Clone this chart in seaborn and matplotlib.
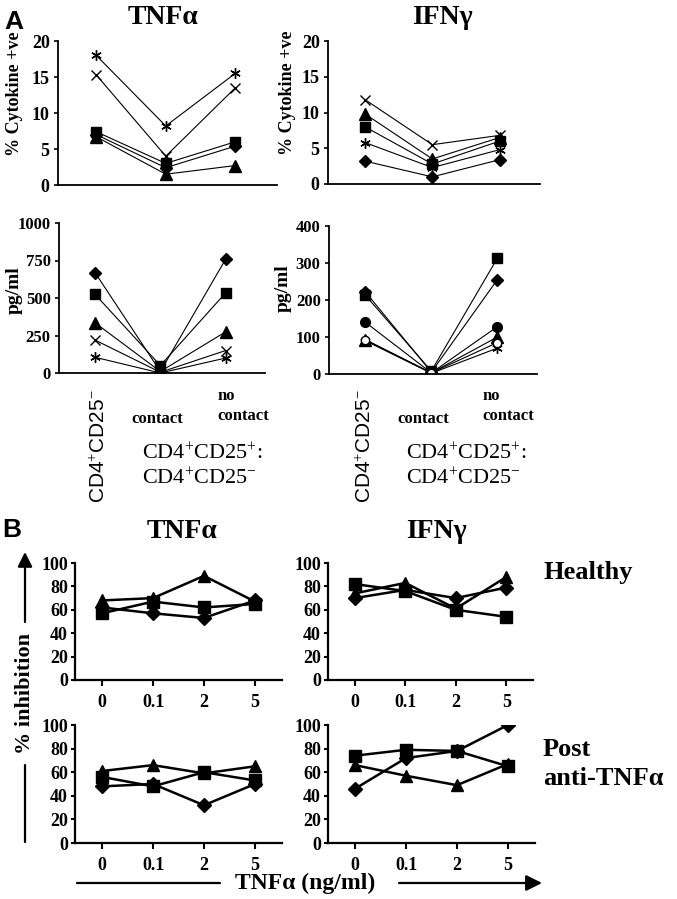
import numpy as np
import pandas as pd
import matplotlib
matplotlib.use("Agg")
import matplotlib.pyplot as plt
import seaborn as sns

# ---------------- data ----------------
a_categories = ["CD4+CD25-", "contact", "no contact"]

tnf_pct_star = [18.0, 8.2, 15.5]
tnf_pct_cross = [15.3, 4.0, 13.5]
tnf_pct_square = [7.4, 3.0, 6.0]
tnf_pct_diamond = [7.0, 2.4, 5.4]
tnf_pct_triangle = [6.7, 1.5, 2.7]

ifn_pct_cross = [11.8, 5.5, 6.8]
ifn_pct_triangle = [9.8, 3.5, 6.5]
ifn_pct_square = [8.0, 2.8, 6.0]
ifn_pct_star = [5.8, 2.3, 4.8]
ifn_pct_diamond = [3.2, 1.0, 3.4]

tnf_pg_diamond = [670, 10, 760]
tnf_pg_square = [525, 50, 535]
tnf_pg_triangle = [335, 10, 275]
tnf_pg_cross = [220, 5, 150]
tnf_pg_star = [105, 0, 100]

ifn_pg_diamond = [222, 5, 255]
ifn_pg_square = [213, 8, 313]
ifn_pg_circle = [140, 3, 128]
ifn_pg_triangle = [93, 3, 100]
ifn_pg_star = [90, 2, 70]
ifn_pg_open = [92, 3, 85]

b_doses = ["0", "0.1", "2", "5"]

tnf_healthy_triangle = [68, 70, 89, 67]
tnf_healthy_square = [57, 67, 62, 65]
tnf_healthy_diamond = [62, 57, 53, 68]

ifn_healthy_square = [82, 76, 60, 54]
ifn_healthy_triangle = [74, 83, 61, 88]
ifn_healthy_diamond = [70, 77, 70, 79]

tnf_post_triangle = [61, 66, 59, 65]
tnf_post_square = [56, 48, 60, 53]
tnf_post_diamond = [48, 50, 32, 50]

ifn_post_diamond = [46, 72, 78, 100]
ifn_post_square = [74, 79, 78, 65]
ifn_post_triangle = [66, 57, 49, 67]

# ---------------- style ----------------
sns.set_theme(style="ticks")
plt.rcParams['font.family'] = ['Liberation Serif', 'DejaVu Serif']
plt.rcParams['mathtext.fontset'] = 'custom'
plt.rcParams['mathtext.rm'] = 'Liberation Serif'
plt.rcParams['mathtext.it'] = 'Liberation Serif:italic'
plt.rcParams['mathtext.bf'] = 'Liberation Serif:bold'

W, H = 677, 899
fig = plt.figure(figsize=(W / 100, H / 100), dpi=100)
fig.patch.set_facecolor('white')


def add_ax(l, t, r, b):
    return fig.add_axes([l / W, 1 - b / H, (r - l) / W, (b - t) / H])


MK = {
    'diamond': ('D', 6.0, 'black'),
    'square': ('s', 7.0, 'black'),
    'triangle': ('^', 8.0, 'black'),
    'cross': ('x', 7.0, 'black'),
    'star': ((6, 2, 0), 7.5, 'black'),
    'circle': ('o', 7.0, 'black'),
    'open': ('o', 6.0, 'white'),
}


def draw(ax, cats, series, lw, scale, mew):
    for name, vals in series:
        m, ms, fc = MK[name]
        df = pd.DataFrame({'x': cats, 'y': vals})
        sns.lineplot(data=df, x='x', y='y', ax=ax, color='black', lw=lw,
                     marker=m, markersize=ms * scale, markerfacecolor=fc,
                     markeredgecolor='black', markeredgewidth=mew, sort=False)
    ax.set_xlabel('')
    ax.set_ylabel('')
    for s in ['top', 'right']:
        ax.spines[s].set_visible(False)


def style_a(ax, ymax, yticks, spine_lw=1.3, fs=13):
    ax.set_ylim(0, ymax)
    ax.set_xlim(-0.55, 2.6)
    ax.set_yticks(yticks)
    ax.tick_params(axis='x', bottom=False, labelbottom=False)
    ax.tick_params(axis='y', direction='out', length=3, width=1.2, pad=3,
                   labelsize=fs, colors='black')
    for s in ['left', 'bottom']:
        ax.spines[s].set_color('black')
        ax.spines[s].set_linewidth(spine_lw)
    for lbl in ax.get_yticklabels():
        lbl.set_fontweight('bold')


def style_b(ax):
    ax.set_ylim(0, 100)
    ax.set_xlim(-0.53, 3.53)
    ax.set_yticks([0, 20, 40, 60, 80, 100])
    ax.tick_params(axis='x', direction='out', length=4, width=1.5, pad=6,
                   labelsize=13, colors='black')
    ax.tick_params(axis='y', direction='out', length=3, width=1.5, pad=2,
                   labelsize=13, colors='black')
    for s in ['left', 'bottom']:
        ax.spines[s].set_color('black')
        ax.spines[s].set_linewidth(1.6)
    for lbl in ax.get_yticklabels() + ax.get_xticklabels():
        lbl.set_fontweight('bold')


# ---- Panel A ----
ax1 = add_ax(58, 41, 277, 185)
draw(ax1, a_categories, [('star', tnf_pct_star), ('cross', tnf_pct_cross),
                         ('square', tnf_pct_square), ('diamond', tnf_pct_diamond),
                         ('triangle', tnf_pct_triangle)], 0.8, 1.0, 1.0)
style_a(ax1, 20, [0, 5, 10, 15, 20])

ax2 = add_ax(328, 41, 540, 184)
draw(ax2, a_categories, [('cross', ifn_pct_cross), ('triangle', ifn_pct_triangle),
                         ('square', ifn_pct_square), ('star', ifn_pct_star),
                         ('diamond', ifn_pct_diamond)], 0.8, 1.0, 1.0)
style_a(ax2, 20, [0, 5, 10, 15, 20])

ax3 = add_ax(59, 223, 265, 373)
draw(ax3, a_categories, [('diamond', tnf_pg_diamond), ('square', tnf_pg_square),
                         ('triangle', tnf_pg_triangle), ('cross', tnf_pg_cross),
                         ('star', tnf_pg_star)], 0.8, 1.0, 1.0)
style_a(ax3, 1000, [0, 250, 500, 750, 1000], fs=12)

ax4 = add_ax(329, 226, 537, 374)
draw(ax4, a_categories, [('diamond', ifn_pg_diamond), ('square', ifn_pg_square),
                         ('circle', ifn_pg_circle), ('triangle', ifn_pg_triangle),
                         ('star', ifn_pg_star), ('open', ifn_pg_open)], 0.8, 1.0, 1.0)
style_a(ax4, 400, [0, 100, 200, 300, 400], fs=12)

# ---- Panel B ----
ax5 = add_ax(75, 563, 282, 680)
draw(ax5, b_doses, [('triangle', tnf_healthy_triangle), ('square', tnf_healthy_square),
                    ('diamond', tnf_healthy_diamond)], 1.8, 1.15, 1.0)
style_b(ax5)

ax6 = add_ax(328, 563, 533, 680)
draw(ax6, b_doses, [('square', ifn_healthy_square), ('triangle', ifn_healthy_triangle),
                    ('diamond', ifn_healthy_diamond)], 1.8, 1.15, 1.0)
style_b(ax6)

ax7 = add_ax(75, 725, 282, 843)
draw(ax7, b_doses, [('triangle', tnf_post_triangle), ('square', tnf_post_square),
                    ('diamond', tnf_post_diamond)], 1.8, 1.15, 1.0)
style_b(ax7)

ax8 = add_ax(328, 725, 535, 843)
draw(ax8, b_doses, [('diamond', ifn_post_diamond), ('square', ifn_post_square),
                    ('triangle', ifn_post_triangle)], 1.8, 1.15, 1.0)
style_b(ax8)

# ---- overlay for texts and arrows (pixel coordinates) ----
ov = fig.add_axes([0, 0, 1, 1], zorder=10)
ov.set_xlim(0, W)
ov.set_ylim(H, 0)
ov.axis('off')
ov.patch.set_alpha(0)

sans = ['Liberation Sans', 'DejaVu Sans']
bold_kw = dict(fontweight='bold', color='black', ha='center', va='center')

ov.text(14, 22, 'A', fontsize=19, family=sans, **bold_kw)
ov.text(12, 530, 'B', fontsize=19, family=sans, **bold_kw)

ov.text(163, 17, 'TNFα', fontsize=20, **bold_kw)
ov.text(442, 17, 'IFNγ', fontsize=20, **bold_kw)
ov.text(182, 531, 'TNFα', fontsize=20, **bold_kw)
ov.text(436, 531, 'IFNγ', fontsize=20, **bold_kw)

ov.text(15, 94, '% Cytokine +ve', fontsize=13, rotation=90, **bold_kw)
ov.text(287, 93, '% Cytokine +ve', fontsize=13, rotation=90, **bold_kw)
ov.text(14, 290, 'pg/ml', fontsize=14, rotation=90, **bold_kw)
ov.text(283, 288, 'pg/ml', fontsize=14, rotation=90, **bold_kw)

# category labels of panel A
for x_rot, x_con, x_no, x_ratio in [(99, 157, 243, 142), (365, 423, 508, 406)]:
    ov.text(x_rot, 446, r'CD4$^{+}$CD25$^{-}$', fontsize=15, rotation=90,
            family=sans, color='black', ha='center', va='center')
    ov.text(x_con, 419, 'contact', fontsize=12, **bold_kw)
    ov.text(x_no, 406, 'no\ncontact', fontsize=12, fontweight='bold',
            color='black', ha='center', va='center', multialignment='left',
            linespacing=1.3)
    ov.text(x_ratio, 466, 'CD4$^{+}$CD25$^{+}$:\nCD4$^{+}$CD25$^{-}$', fontsize=16,
            color='black', ha='left', va='center', linespacing=1.25)

# row labels
ov.text(543, 572, 'Healthy', fontsize=19, fontweight='bold', color='black',
        ha='left', va='center')
ov.text(543, 764, 'Post\nanti-TNFα', fontsize=19, fontweight='bold', color='black',
        ha='left', va='center', linespacing=1.3)

# % inhibition arrow
ov.text(25, 693, '% inhibition', fontsize=16, rotation=90, **bold_kw)
ov.annotate('', xy=(25, 552), xytext=(25, 622),
            arrowprops=dict(arrowstyle='-|>', lw=1.6, color='black',
                            mutation_scale=22, shrinkA=0, shrinkB=0))
ov.plot([25, 25], [765, 842], color='black', lw=1.6)

# TNFa (ng/ml) arrow
ov.text(305, 883, 'TNFα (ng/ml)', fontsize=17, **bold_kw)
ov.plot([77, 220], [883, 883], color='black', lw=1.6)
ov.annotate('', xy=(542, 883), xytext=(399, 883),
            arrowprops=dict(arrowstyle='-|>', lw=1.6, color='black',
                            mutation_scale=24, shrinkA=0, shrinkB=0))

fig.savefig('out.png', dpi=100, facecolor='white')
